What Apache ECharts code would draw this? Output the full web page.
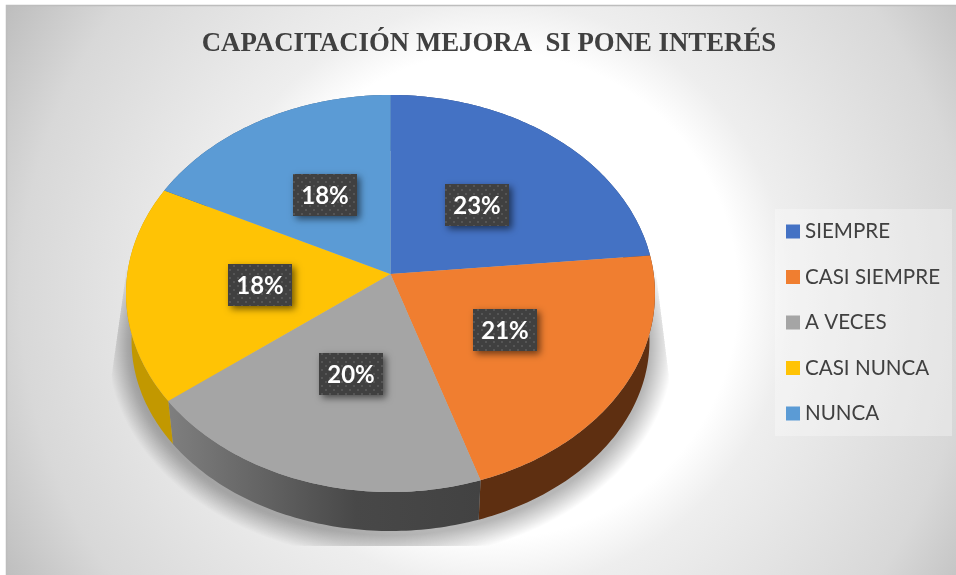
<!DOCTYPE html>
<html>
<head>
<meta charset="utf-8">
<style>html,body{margin:0;padding:0;background:#fff}#c{width:956px;height:575px}</style>
<script src="https://cdn.jsdelivr.net/npm/echarts@6/dist/echarts.min.js"></script>
</head>
<body>
<div id="c"></div>
<script>
const titleText = 'CAPACITACIÓN MEJORA  SI PONE INTERÉS';
const categories = ['SIEMPRE', 'CASI SIEMPRE', 'A VECES', 'CASI NUNCA', 'NUNCA'];
const values = [23.49, 21.49, 19.62, 17.7, 17.7];
const topColors = ['#4472C4', '#F07E30', '#A5A5A5', '#FFC305', '#5B9BD5'];
const wallColors = ['#2A4478', '#5E2F11', '#444444', '#C29800', '#3A6186'];

const topFace = {A: 263.2, B: 196.6, k: -0.0982, ax: 390.5, ay: 274};
const bottomFace = {A: 257.7, B: 188.2, k: -0.0982, ax: 390.5, ay: 322.3};

function project(p, theta, r) {
  const u = r * Math.sin(theta), v = -r * Math.cos(theta), w = 1 + p.k * v;
  return [p.ax + p.A * u / w, p.ay + p.B * v / w];
}
function arcPoints(p, a0, a1) {
  const n = Math.max(2, Math.ceil((a1 - a0) / (Math.PI / 180))), pts = [];
  for (let i = 0; i <= n; i++) pts.push(project(p, a0 + (a1 - a0) * i / n, 1));
  return pts;
}
const total = values.reduce((a, b) => a + b, 0);
function startAngle(i) {
  return values.slice(0, i).reduce((a, b) => a + b, 0) / total * Math.PI * 2;
}

// dotted fill of the value boxes
const tile = document.createElement('canvas');
tile.width = 8; tile.height = 8;
(function () {
  const g = tile.getContext('2d');
  g.fillStyle = '#404040'; g.fillRect(0, 0, 8, 8);
  g.fillStyle = '#555555';
  g.fillRect(1, 1, 2, 2); g.fillRect(5, 5, 2, 2);
})();

function renderSlice(i) {
  return function () {
    const a0 = startAngle(i), a1 = startAngle(i + 1);
    const rim = arcPoints(topFace, a0, a1);
    const under = arcPoints(bottomFace, a0, a1).reverse();
    let wallFill = wallColors[i];
    if (i === 2) {
      wallFill = new echarts.graphic.LinearGradient(168, 0, 481, 0, [
        {offset: 0, color: '#7F7F7F'},
        {offset: 0.6, color: '#484848'},
        {offset: 1, color: '#424242'}
      ], true);
    }
    const mid = project(topFace, (a0 + a1) / 2, 0.5);
    const bw = 64, bh = 42;
    const bx = Math.round(mid[0] - bw / 2 + 1), by = Math.round(mid[1] - bh / 2 + 1);
    return {
      type: 'group',
      children: [
        {type: 'polygon', z2: 1, silent: true, shape: {points: rim.concat(under)}, style: {fill: wallFill}},
        {type: 'polygon', z2: 10, silent: true, shape: {points: [[topFace.ax, topFace.ay]].concat(rim)},
          style: {fill: topColors[i]}},
        {type: 'rect', z2: 20, silent: true, shape: {x: bx, y: by, width: bw, height: bh},
          style: {fill: '#404040', shadowBlur: 7, shadowOffsetX: 3, shadowOffsetY: 3, shadowColor: 'rgba(0,0,0,0.55)'}},
        {type: 'rect', z2: 21, silent: true, shape: {x: bx, y: by, width: bw, height: bh},
          style: {fill: {image: tile, repeat: 'repeat'}}},
        {type: 'text', z2: 22, silent: true, style: {
          x: bx + bw / 2, y: by + bh / 2 + 1,
          text: Math.round(values[i]) + '%',
          fill: '#FFFFFF', align: 'center', verticalAlign: 'middle',
          font: 'bold 24px Lato'
        }}
      ]
    };
  };
}

// soft floor shadow, cut off at a trapezoid like the reference
function shadowLayers() {
  const out = [], N = 24, cx = 390.5, cy = 345;
  for (let d = 1; d <= N; d++) {
    const pts = [];
    for (let t = 0; t < 360; t += 2) {
      const a = t * Math.PI / 180;
      let x = cx + (259 + d) * Math.cos(a), y = cy + (190 + d) * Math.sin(a);
      const f = Math.max(0, Math.min(1, (y - 280) / 120));
      const lo = 125 - 17 * f, hi = 657 + 15 * f;
      x = Math.max(lo, Math.min(hi, x));
      y = Math.min(546, y);
      pts.push([x, y]);
    }
    out.push({type: 'polygon', z: -5, silent: true, shape: {points: pts}, style: {fill: 'rgba(0,0,0,0.012)'}});
  }
  return out;
}

const chart = echarts.init(document.getElementById('c'), null, {renderer: 'canvas'});
chart.setOption({
  animation: false,
  title: {
    text: titleText, left: 484, top: 26, textAlign: 'center',
    textStyle: {fontFamily: 'Liberation Serif', fontWeight: 'bold', fontSize: 26.8, color: '#404040'}
  },
  legend: {
    orient: 'vertical', left: 775, top: 209, icon: 'rect',
    itemWidth: 14, itemHeight: 14, itemGap: 24.5,
    padding: [12, 12, 12, 11],
    backgroundColor: 'rgba(255,255,255,0.3)',
    selectedMode: false,
    textStyle: {fontFamily: 'Lato', fontSize: 20.6, color: '#404040'},
    data: categories
  },
  graphic: {
    elements: [
      {type: 'rect', z: -10, silent: true, shape: {x: 6.5, y: 5.5, width: 960, height: 580},
        style: {
          stroke: '#BDBDBD', lineWidth: 1.5,
          fill: new echarts.graphic.RadialGradient(495, 295, 565, [
            {offset: 0, color: '#FFFFFF'},
            {offset: 0.43, color: '#FFFFFF'},
            {offset: 0.52, color: '#EEEEEE'},
            {offset: 0.84, color: '#D8D8D8'},
            {offset: 1, color: '#BEBEBE'}
          ], true)
        }}
    ].concat(shadowLayers())
  },
  series: categories.map((name, i) => ({
    type: 'custom',
    name: name,
    coordinateSystem: 'none',
    itemStyle: {color: topColors[i]},
    data: [values[i]],
    renderItem: renderSlice(i)
  }))
});
</script>
</body>
</html>
